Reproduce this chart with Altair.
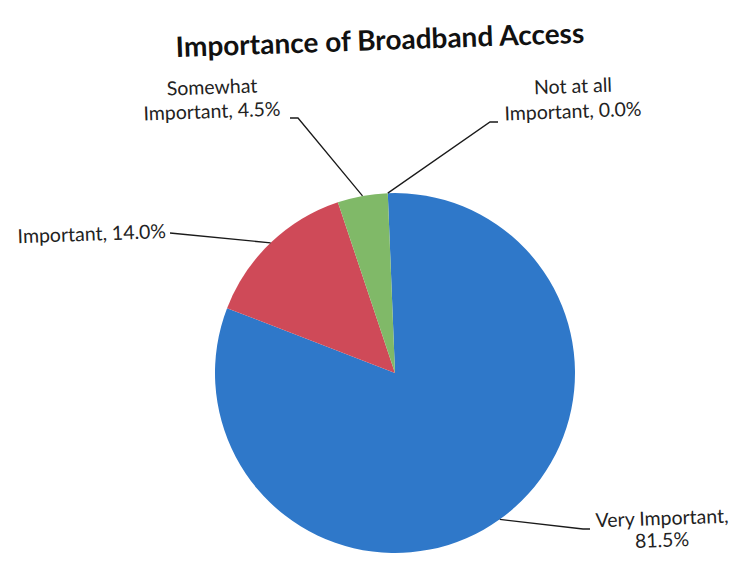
import math
import altair as alt
import pandas as pd

# ---- data ----
categories = ["Very Important", "Important", "Somewhat Important", "Not at all Important"]
values = [81.5, 14.0, 4.5, 0.0]
label_lines = [["Very Important,", "81.5%"], ["Important, 14.0%"],
               ["Somewhat", "Important, 4.5%"], ["Not at all", "Important, 0.0%"]]
title_text = "Importance of Broadband Access"

# ---- style / layout ----
colors = ["#2f78c9", "#cf4a58", "#80b968", "#9cc25e"]
W, H = 722, 545
CX, CY, R = 387, 365, 180
ROT = -2.3  # degrees (scan tilt)
FONT = "Lato"
TEXT_ANGLE = 358

# leader-line bends and label anchors (chart pixel space)
leader_bends = {
    "Very Important": [(575, 521), (582, 521)],
    "Important": [(162, 225)],
    "Somewhat Important": [(290, 110), (282, 110)],
    "Not at all Important": [(482, 114), (490, 114)],
}
label_anchor = {
    "Very Important": (654, 511, "center", 22),
    "Important": (158, 224, "right", 24),
    "Somewhat Important": (204, 80, "center", 24),
    "Not at all Important": (565, 79, "center", 25),
}

pie_df = pd.DataFrame({"category": categories, "value": values,
                       "order": list(range(len(categories)))})

# leader lines from slice mid-angles
total = sum(values)
rows = []
cum = 0.0
for cat, v in zip(categories, values):
    mid = ROT + (cum + v / 2) / total * 360.0
    cum += v
    a = math.radians(mid)
    pts = [(CX + R * math.sin(a), CY - R * math.cos(a))] + leader_bends[cat]
    for i, (px, py) in enumerate(pts):
        rows.append({"category": cat, "i": i, "x": px, "y": py})
lines_df = pd.DataFrame(rows)

trows = []
for cat, lines in zip(categories, label_lines):
    x0, y0, align, lh = label_anchor[cat]
    for j, t in enumerate(lines):
        trows.append({"category": cat, "text": t, "x": x0, "y": y0 + j * lh, "align": align})
text_df = pd.DataFrame(trows)

xs = alt.Scale(domain=[0, W], range=[0, W])
ys = alt.Scale(domain=[0, H], range=[0, H])

rot_rad = math.radians(ROT)
pie = alt.Chart(pie_df).mark_arc(radius=R).encode(
    theta=alt.Theta("value:Q", stack=True,
                    scale=alt.Scale(range=[rot_rad, rot_rad + 2 * math.pi])),
    color=alt.Color("category:N", scale=alt.Scale(domain=categories, range=colors), legend=None),
    order=alt.Order("order:Q"),
    x=alt.value(CX),
    y=alt.value(CY),
)

leaders = alt.Chart(lines_df).mark_line(color="#1a1a1a", strokeWidth=1.3).encode(
    x=alt.X("x:Q", scale=xs, axis=None),
    y=alt.Y("y:Q", scale=ys, axis=None),
    detail="category:N",
    order="i:Q",
)

def text_layer(align):
    d = text_df[text_df["align"] == align]
    return alt.Chart(d).mark_text(font=FONT, fontSize=19.5, color="#222222",
                                  align=align, baseline="middle", angle=TEXT_ANGLE).encode(
        x=alt.X("x:Q", scale=xs, axis=None),
        y=alt.Y("y:Q", scale=ys, axis=None),
        text="text:N",
    )

title_df = pd.DataFrame({"text": [title_text], "x": [372], "y": [34]})
title = alt.Chart(title_df).mark_text(font=FONT, fontSize=28, fontWeight="bold", color="#111111",
                                      align="center", baseline="middle", angle=TEXT_ANGLE).encode(
    x=alt.X("x:Q", scale=xs, axis=None),
    y=alt.Y("y:Q", scale=ys, axis=None),
    text="text:N",
)

chart = alt.layer(pie, leaders, text_layer("center"), text_layer("right"), title).properties(
    width=W, height=H, autosize=alt.AutoSizeParams(type="none"), padding=0
).configure(background="white", view=alt.ViewConfig(stroke=None))

chart.save("out.html", embed_options={"renderer": "svg", "actions": False})
